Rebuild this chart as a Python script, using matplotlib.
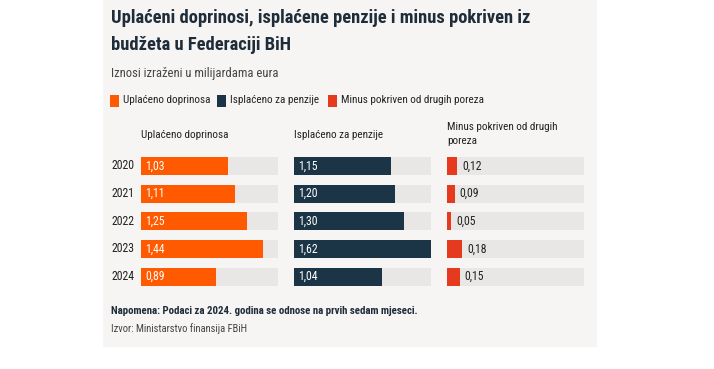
import matplotlib
matplotlib.use("Agg")
import matplotlib.pyplot as plt
from matplotlib.patches import Rectangle

plt.rcParams['font.family'] = ['Roboto Condensed', 'Roboto', 'DejaVu Sans']

years = ['2020', '2021', '2022', '2023', '2024']
uplaceno = [1.03, 1.11, 1.25, 1.44, 0.89]
isplaceno = [1.15, 1.20, 1.30, 1.62, 1.04]
minus = [0.12, 0.09, 0.05, 0.18, 0.15]

series = [uplaceno, isplaceno, minus]
headers = ['Uplaćeno doprinosa', 'Isplaćeno za penzije', 'Minus pokriven od drugih\nporeza']
colors = ['#ff5a00', '#1c3546', '#e63a1f']
inside = [True, True, False]
scale_max = 1.62

W, H = 714, 369
fig = plt.figure(figsize=(W / 100, H / 100), dpi=100)
fig.patch.set_facecolor('white')

# light panel behind the chart
fig.patches.append(Rectangle((103 / W, 1 - 347 / H), (597 - 103) / W, 347 / H,
                             transform=fig.transFigure, facecolor='#f6f5f4',
                             edgecolor='none', zorder=-5))

dark = '#1f2d3a'
gray = '#444444'

fig.text(111 / W, 1 - 18 / H, 'Uplaćeni doprinosi, isplaćene penzije i minus pokriven iz',
         fontsize=13.3, fontweight='bold', color=dark, va='center')
fig.text(111 / W, 1 - 45 / H, 'budžeta u Federaciji BiH',
         fontsize=13.3, fontweight='bold', color=dark, va='center')
fig.text(111 / W, 1 - 73 / H, 'Iznosi izraženi u milijardama eura',
         fontsize=9.1, color=gray, va='center')

# legend
leg_x = [110, 217, 328]
for lx, lab, c in zip(leg_x, headers, colors):
    fig.patches.append(Rectangle((lx / W, 1 - 107 / H), 9 / W, 12 / H,
                                 transform=fig.transFigure, facecolor=c,
                                 edgecolor='none'))
    fig.text((lx + 13) / W, 1 - 100 / H, lab.replace('\n', ' '),
             fontsize=8, color='#222222', va='center')

col_x = [141, 294, 447]
col_w = 137
top_px, row_h = 152, 27.7
for cx, vals, head, c, ins in zip(col_x, series, headers, colors, inside):
    ax = fig.add_axes([cx / W, 1 - (top_px + 5 * row_h) / H, col_w / W, 5 * row_h / H])
    ax.set_xlim(0, scale_max)
    ax.set_ylim(4.5, -0.5)
    ypos = list(range(len(years)))
    ax.barh(ypos, [scale_max] * len(years), height=0.65, color='#e8e7e6')
    ax.barh(ypos, vals, height=0.65, color=c)
    for y, v in zip(ypos, vals):
        s = f'{v:.2f}'.replace('.', ',')
        if ins:
            ax.text(0.05, y, s, color='white', fontsize=8.5, va='center', ha='left')
        else:
            ax.text(v + 0.06, y, s, color='#222222', fontsize=8.5, va='center', ha='left')
    ax.axis('off')
    fig.text(cx / W, 1 - (135 if '\n' not in head else 134) / H, head, fontsize=8,
             color='#222222', va='center', linespacing=1.45)

for i, yr in enumerate(years):
    fig.text(111 / W, 1 - (top_px + (i + 0.5) * row_h) / H, yr,
             fontsize=8.5, color='#222222', va='center')

fig.text(111 / W, 1 - 311 / H,
         'Napomena: Podaci za 2024. godina se odnose na prvih sedam mjeseci.',
         fontsize=7.8, fontweight='bold', color=dark, va='center')
fig.text(111 / W, 1 - 329 / H, 'Izvor: Ministarstvo finansija FBiH',
         fontsize=7.6, color=gray, va='center')

fig.savefig('out.png', dpi=100, facecolor='white')
